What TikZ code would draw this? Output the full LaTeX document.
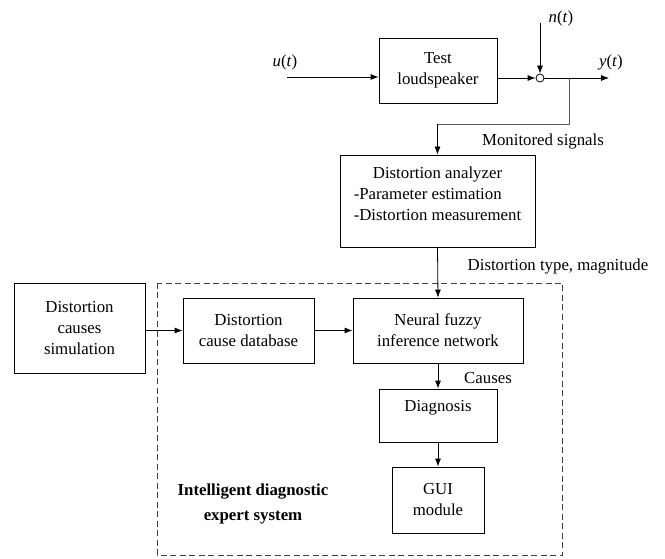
\documentclass[tikz,border=0pt]{standalone}
\usepackage{fontspec}
\setmainfont{Liberation Serif}
\newfontfamily\tms{Liberation Serif}
\usetikzlibrary{arrows.meta}
\begin{document}
\begin{tikzpicture}[x=1pt,y=-1pt,
  every node/.style={font=\tms\fontsize{16.8}{21}\selectfont, inner sep=0pt},
  blk/.style={draw, line width=0.8pt, minimum width=#1},
  lbl/.style={},
  arr/.style={line width=0.8pt, -{Latex[length=8pt,width=6pt]}},
  ln/.style={line width=0.8pt}]
\useasboundingbox (0,0) rectangle (665,559);
% dashed system box
\draw[dashed, dash pattern=on 6pt off 3.5pt, line width=0.7pt, black!75] (157,283) rectangle (562,555);
% nodes
\node[blk=118pt, minimum height=65pt, align=center] (test) at (438,70.5) {Test\\loudspeaker};
\node[draw, circle, line width=0.8pt, minimum size=8pt, fill=white] (sum) at (540,78) {};
\node[lbl] (ulab) at (285,62) {\textit{u}(\textit{t})};
\node[lbl] (nlab) at (561,18) {\textit{n}(\textit{t})};
\node[lbl] (ylab) at (611,62) {\textit{y}(\textit{t})};
\coordinate (uin) at (287,77);
\coordinate (ntop) at (540,23);
\coordinate (yout) at (609,78);
\coordinate (br) at (569,78);
\coordinate (br1) at (569,124);
\coordinate (br2) at (437.5,124);
\node[lbl] (monlab) at (543,141) {Monitored signals};
\node[blk=195pt, minimum height=92pt] (ana) at (437.5,201) {};
\node (anatxt) at (437.5,195) {\begin{tabular}{@{}l@{}}\multicolumn{1}{@{}c@{}}{Distortion analyzer}\\-Parameter estimation\\-Distortion measurement\end{tabular}};
\node[lbl] (dtlab) at (558,266) {Distortion type, magnitude};
\node[blk=131pt, minimum height=90pt, align=center] (sim) at (79.5,328) {Distortion\\causes\\simulation};
\node[blk=131pt, minimum height=65pt, align=center] (db) at (248.5,330.5) {Distortion\\cause database};
\node[blk=170pt, minimum height=65pt, align=center] (nn) at (438,330.5) {Neural fuzzy\\inference network};
\node[blk=118pt, minimum height=53pt] (diag) at (438,415.5) {};
\node (diagtxt) at (438,408) {Diagnosis};
\node[blk=92pt, minimum height=66pt, align=center] (gui) at (438,500) {GUI\\module};
\node[lbl] (causes) at (488,378) {Causes};
\node[align=center, font=\tms\fontsize{16.8}{25}\selectfont\bfseries] (sys) at (253,504) {Intelligent diagnostic\\expert system};
% connectors
\draw[arr] (uin) -- (uin -| test.west);
\draw[arr] (test.east |- sum) -- (sum.west);
\draw[arr] (ntop) -- (sum.north);
\draw[arr] (sum.east) -- (yout);
\draw[ln, black!65] (br) -- (br1) -- (br2);
\draw[arr] (br2) -- (ana.north);
\draw[arr] (ana.south) -- (nn.north);
\draw[arr] (sim.east |- db) -- (db.west);
\draw[arr] (db.east) -- (nn.west);
\draw[arr] (nn.south) -- (diag.north);
\draw[arr] (diag.south) -- (gui.north);
\end{tikzpicture}
\end{document}
